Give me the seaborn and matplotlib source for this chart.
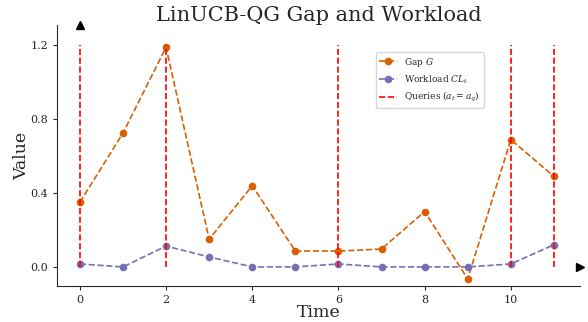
import matplotlib
matplotlib.use("Agg")
import matplotlib.pyplot as plt
import seaborn as sns
import numpy as np
import pandas as pd

time = list(range(12))
gap = [0.35, 0.725, 1.19, 0.15, 0.44, 0.086, 0.086, 0.097, 0.30, -0.065, 0.69, 0.49]
workload = [0.016, 0.0, 0.113, 0.054, 0.0, 0.0, 0.016, 0.0, 0.0, 0.0, 0.016, 0.12]
queries = [0, 2, 6, 10, 11]
yticks = [0.0, 0.4, 0.8, 1.2]
xticks = [0, 2, 4, 6, 8, 10]

sns.set_style("white")
plt.rcParams['font.family'] = ['DejaVu Serif']
plt.rcParams['mathtext.fontset'] = 'dejavuserif'

df = pd.DataFrame({"Time": time, "Gap": gap, "Workload": workload})

fig, ax = plt.subplots(figsize=(5.88, 3.22), dpi=100)
fig.subplots_adjust(left=0.097, right=0.986, bottom=0.112, top=0.922)

sns.lineplot(data=df, x="Time", y="Gap", ax=ax, color="#d95f02", linestyle="--",
             marker="o", markersize=5.5, markeredgewidth=0, linewidth=1.2, label="Gap $G$")
sns.lineplot(data=df, x="Time", y="Workload", ax=ax, color="#7570b3", linestyle="--",
             marker="o", markersize=5.5, markeredgewidth=0, linewidth=1.2, label="Workload $CL_t$")
for i, q in enumerate(queries):
    ax.vlines(q, 0, 1.2, colors="red", linestyles="--", linewidth=1.2,
              label=r"Queries ($a_t = a_q$)" if i == 0 else None)

ax.set_xlim(-0.53, 11.6)
ax.set_ylim(-0.103, 1.31)
ax.set_xticks(xticks)
ax.set_yticks(yticks)
ax.set_yticklabels([f"{v:.1f}" for v in yticks])
ax.tick_params(axis="both", labelsize=8, length=3, left=True, bottom=True)
ax.set_xlabel("Time", fontsize=12.5, labelpad=-1)
ax.set_ylabel("Value", fontsize=12.5, labelpad=0)
ax.set_title("LinUCB-QG Gap and Workload", fontsize=15, pad=3)

for s in ["top", "right"]:
    ax.spines[s].set_visible(False)
ax.plot(1, 0, ">k", transform=ax.get_yaxis_transform(), clip_on=False, markersize=6)
ax.plot(0, 1, "^k", transform=ax.get_xaxis_transform(), clip_on=False, markersize=6)

leg = ax.legend(loc="upper right", bbox_to_anchor=(0.816, 0.897), borderaxespad=0,
                fontsize=6.5, frameon=True)

fig.savefig("out.png", dpi=100)
